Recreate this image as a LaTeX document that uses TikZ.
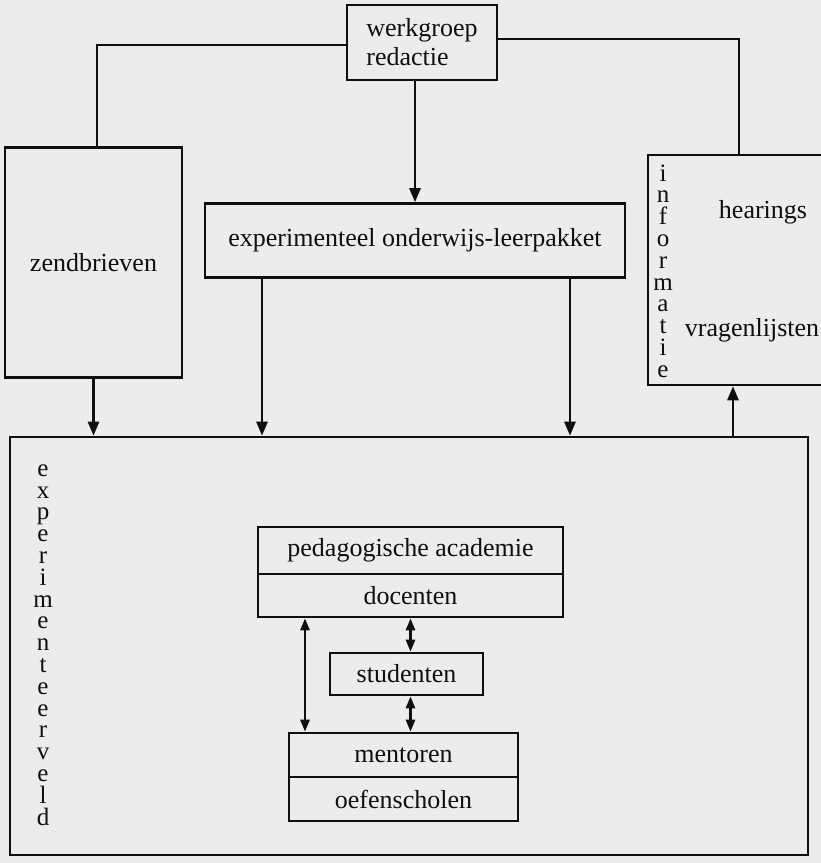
\documentclass[tikz,border=0pt]{standalone}
\usepackage{fontspec}
\setmainfont{Liberation Serif}
\usetikzlibrary{arrows.meta}
\definecolor{paper}{RGB}{236,236,234}
\definecolor{ink}{RGB}{15,15,15}
\begin{document}
\begin{tikzpicture}[x=1pt,y=-1pt,
  box/.style={draw=ink, line width=2.6pt, inner sep=0pt, text=ink,
              font=\fontsize{26}{29}\selectfont},
  ln/.style={draw=ink, line width=2.6pt},
  arr/.style={ln, -{Triangle[width=11pt,length=14pt]}},
  darr/.style={ln, {Triangle[width=9pt,length=12pt]}-{Triangle[width=9pt,length=12pt]}},
  lbl/.style={text=ink, inner sep=0pt, font=\fontsize{26}{29}\selectfont},
  vert/.style={text=ink, inner sep=0pt, align=center, font=\fontsize{25}{21.8}\selectfont}]
\fill[paper] (0,0) rectangle (821,863);
\clip (0,0) rectangle (821,863);

% boxes
\node[box, minimum width=150pt, minimum height=75pt, align=left] (werk) at (422,42.5) {werkgroep\\redactie};
\node[box, minimum width=177pt, minimum height=230pt] (zend) at (93.5,262.5) {zendbrieven};
\node[box, minimum width=420pt, minimum height=74pt] (exp) at (415,240.5) {experimenteel onderwijs-leerpakket};
\node[box, minimum width=182pt, minimum height=230pt] (info) at (739,270) {};
\node[box, minimum width=798pt, minimum height=418pt] (big) at (409,646) {};
\node[box, minimum width=305pt, minimum height=47pt] (ped) at (410.5,550.5) {pedagogische academie};
\node[box, minimum width=305pt, minimum height=43pt] (doc) at (410.5,595.5) {docenten};
\node[box, minimum width=153pt, minimum height=42pt] (stud) at (406.5,674) {studenten};
\node[box, minimum width=229pt, minimum height=44pt] (ment) at (403.5,755) {mentoren};
\node[box, minimum width=229pt, minimum height=44pt] (oef) at (403.5,799) {oefenscholen};

% labels inside the information box and the field
\node[lbl] (hear) at (763,212) {hearings};
\node[lbl] (vrag) at (752,330) {vragenlijsten};
\node[vert] (infotxt) at (663,271) {i\\n\\f\\o\\r\\m\\a\\t\\i\\e};
\node[vert] (veld) at (43,645) {e\\x\\p\\e\\r\\i\\m\\e\\n\\t\\e\\e\\r\\v\\e\\l\\d};

% connectors from the werkgroep
\draw[ln] ([yshift=-2.5pt]werk.west) -| ([xshift=3.5pt]zend.north);
\draw[ln] ([yshift=3.5pt]werk.east) -| (info.north);
\draw[arr] (werk.south -| exp.north) -- (exp.north);

% connectors into the field
\draw[arr] (zend.south) -- (zend.south |- big.north);
\draw[arr] ([xshift=-153pt]exp.south) -- ([xshift=-153pt]exp.south |- big.north);
\draw[arr] ([xshift=155pt]exp.south) -- ([xshift=155pt]exp.south |- big.north);
\draw[arr] ([xshift=-6pt]info.south |- big.north) -- ([xshift=-6pt]info.south);

% connectors inside the field
\draw[darr] (doc.south) -- (doc.south |- stud.north);
\draw[darr] (stud.south -| doc.south) -- (ment.north -| doc.south);
\draw[darr] ([xshift=-105.5pt]doc.south) -- ([xshift=-105.5pt]doc.south |- ment.north);
\end{tikzpicture}
\end{document}
